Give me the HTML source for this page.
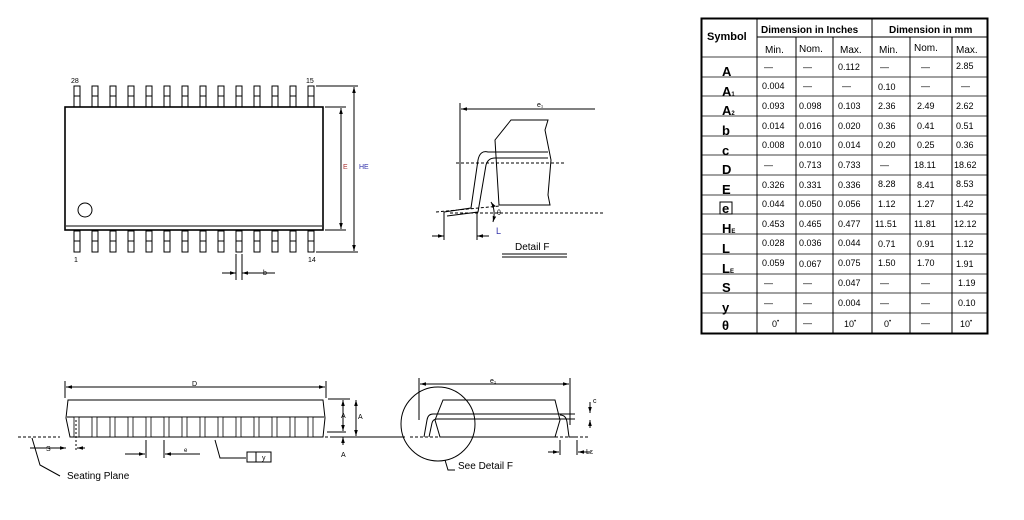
<!DOCTYPE html>
<html><head><style>
body{margin:0;background:#fff;}
svg{display:block;font-family:"Liberation Sans",sans-serif;}
</style></head><body>
<svg width="1024" height="520" viewBox="0 0 1024 520" xmlns="http://www.w3.org/2000/svg">
<defs>
<marker id="ar" viewBox="0 0 10 10" refX="10" refY="5" markerWidth="6" markerHeight="6" orient="auto-start-reverse"><path d="M0,2 L10,5 L0,8 z" fill="#000"/></marker>
<g id="pin"><rect x="0" y="0" width="6" height="21"/><line x1="0" y1="10" x2="6" y2="10"/></g>
<g id="lead"><rect x="0" y="0" width="5" height="20" fill="#fff"/></g>
</defs>
<g stroke="#000" fill="none" stroke-width="1">
<!-- top view pins -->
<g id="pins">
<use href="#pin" x="74" y="86"/><use href="#pin" x="92" y="86"/><use href="#pin" x="110" y="86"/><use href="#pin" x="128" y="86"/><use href="#pin" x="146" y="86"/><use href="#pin" x="164" y="86"/><use href="#pin" x="182" y="86"/><use href="#pin" x="200" y="86"/><use href="#pin" x="218" y="86"/><use href="#pin" x="236" y="86"/><use href="#pin" x="254" y="86"/><use href="#pin" x="272" y="86"/><use href="#pin" x="290" y="86"/><use href="#pin" x="308" y="86"/>
</g>
<use href="#pins" y="145"/>
<rect x="65" y="107" width="258" height="123" fill="#fff" stroke-width="1.6"/>
<line x1="66" y1="226" x2="322" y2="226"/>
<circle cx="85" cy="210" r="7"/>
<!-- E / HE dims -->
<line x1="325" y1="107" x2="346" y2="107"/><line x1="325" y1="230" x2="346" y2="230"/>
<line x1="341" y1="108" x2="341" y2="229" marker-start="url(#ar)" marker-end="url(#ar)"/>
<line x1="316" y1="86" x2="358" y2="86"/><line x1="316" y1="252" x2="358" y2="252"/>
<line x1="354" y1="87" x2="354" y2="251" marker-start="url(#ar)" marker-end="url(#ar)"/>
<line x1="236" y1="254" x2="236" y2="280"/><line x1="242" y1="254" x2="242" y2="280"/>
<line x1="222" y1="273" x2="236" y2="273" marker-end="url(#ar)"/><line x1="256" y1="273" x2="242" y2="273" marker-end="url(#ar)"/>
<line x1="256" y1="273" x2="275" y2="273"/>
<!-- detail F -->
<line x1="460" y1="103" x2="460" y2="200"/>
<line x1="461" y1="109" x2="595" y2="109" marker-start="url(#ar)"/>
<path d="M511,120 L548,120 L545,130 L551,160 L548,195 L550,205 L499,205 L495,140 Z"/>
<line x1="456" y1="163" x2="565" y2="163" stroke-dasharray="3,2"/>
<path d="M444,212 L471,208 L478,160 Q480,150 488,152 L548,152" />
<path d="M447,216 L478,212 L486,165 Q488,158 495,158 L548,158"/>
<line x1="436" y1="212" x2="500" y2="206" stroke-dasharray="3,2"/>
<line x1="450" y1="213" x2="605" y2="213" stroke-dasharray="3,2"/>
<line x1="444" y1="212" x2="444" y2="240"/><line x1="477" y1="212" x2="477" y2="240"/>
<line x1="432" y1="236" x2="444" y2="236" marker-end="url(#ar)"/><line x1="489" y1="236" x2="477" y2="236" marker-end="url(#ar)"/>
<path d="M491,202 Q496,210 493,222" marker-start="url(#ar)" marker-end="url(#ar)"/>
<line x1="502" y1="254" x2="567" y2="254"/><line x1="502" y1="257" x2="567" y2="257"/>
<!-- side view -->
<line x1="65" y1="381" x2="65" y2="398"/><line x1="326" y1="381" x2="326" y2="398"/>
<line x1="66" y1="387" x2="325" y2="387" marker-start="url(#ar)" marker-end="url(#ar)"/>
<path d="M68,400 L323,400 L325,418 L323,437 L70,437 L66,418 Z" fill="#fff"/>
<line x1="67" y1="417" x2="324" y2="417"/>
<line x1="18" y1="437" x2="60" y2="437" stroke-dasharray="3,2"/><line x1="70" y1="437" x2="340" y2="437" stroke-dasharray="3,2"/>
<line x1="355" y1="437" x2="370" y2="437"/>
<g stroke-width="0.8">
<use href="#lead" x="74" y="417"/><use href="#lead" x="92" y="417"/><use href="#lead" x="110" y="417"/><use href="#lead" x="128" y="417"/><use href="#lead" x="146" y="417"/><use href="#lead" x="164" y="417"/><use href="#lead" x="182" y="417"/><use href="#lead" x="200" y="417"/><use href="#lead" x="218" y="417"/><use href="#lead" x="236" y="417"/><use href="#lead" x="254" y="417"/><use href="#lead" x="272" y="417"/><use href="#lead" x="290" y="417"/><use href="#lead" x="308" y="417"/>
</g>
<line x1="328" y1="399" x2="350" y2="399"/><line x1="327" y1="432" x2="346" y2="432"/><line x1="330" y1="437" x2="360" y2="437"/>
<line x1="343" y1="400" x2="343" y2="431" marker-start="url(#ar)" marker-end="url(#ar)"/>
<line x1="356" y1="400" x2="356" y2="436" marker-start="url(#ar)" marker-end="url(#ar)"/>
<line x1="343" y1="445" x2="343" y2="437" marker-end="url(#ar)"/>
<line x1="76" y1="420" x2="76" y2="452" stroke-dasharray="2,2"/>
<line x1="30" y1="448" x2="65" y2="448"/><line x1="55" y1="448" x2="66" y2="448" marker-end="url(#ar)"/><line x1="85" y1="448" x2="77" y2="448" marker-end="url(#ar)"/>
<line x1="146" y1="440" x2="146" y2="458"/><line x1="164" y1="440" x2="164" y2="458"/>
<line x1="125" y1="454" x2="145" y2="454" marker-end="url(#ar)"/><line x1="185" y1="454" x2="165" y2="454" marker-end="url(#ar)"/>
<line x1="165" y1="454" x2="200" y2="454"/>
<path d="M215,440 L220,458 L246,458" />
<rect x="247" y="452" width="24" height="10"/><line x1="256" y1="452" x2="256" y2="462"/>
<path d="M32,438 L40,465 L60,476"/>
<!-- right side -->
<line x1="419" y1="378" x2="419" y2="420"/><line x1="570" y1="378" x2="570" y2="425"/>
<line x1="420" y1="384" x2="569" y2="384" marker-start="url(#ar)" marker-end="url(#ar)"/>
<path d="M443,400 L555,400 L560,420 L555,437 L440,437 L435,420 Z"/>
<path d="M424,437 L427,420 Q428,414 433,414 L575,414"/>
<path d="M429,437 L432,423 Q433,419 437,419 L575,419"/>
<path d="M560,415 Q566,415 567,422 L569,437 L578,437"/>
<line x1="362" y1="437" x2="405" y2="437"/><line x1="410" y1="437" x2="590" y2="437" stroke-dasharray="3,2"/>
<circle cx="438" cy="424" r="37"/>
<path d="M445,460 L448,470 L455,470"/>
<line x1="560" y1="440" x2="560" y2="455"/><line x1="577" y1="440" x2="577" y2="455"/>
<line x1="548" y1="452" x2="559" y2="452" marker-end="url(#ar)"/><line x1="590" y1="452" x2="578" y2="452" marker-end="url(#ar)"/>
<line x1="590" y1="402" x2="590" y2="413" marker-end="url(#ar)"/><line x1="590" y1="428" x2="590" y2="420" marker-end="url(#ar)"/>
</g>
<g font-size="7" fill="#000">
<text x="71" y="83">28</text><text x="306" y="83">15</text><text x="74" y="262">1</text><text x="308" y="262">14</text>
<text x="343" y="169" fill="#a33">E</text><text x="359" y="169" fill="#33a">HE</text>
<text x="263" y="275">b</text>
<text x="537" y="107">e₁</text>
<text x="497" y="215">θ</text>
<text x="496" y="234" font-size="9" fill="#33a">L</text>
<text x="515" y="250" font-size="10">Detail F</text>
<text x="192" y="386">D</text>
<text x="341" y="418">A</text><text x="358" y="419">A</text><text x="341" y="457">A</text>
<text x="46" y="451">S</text>
<text x="184" y="452" font-size="6">e</text><text x="262" y="460">y</text>
<text x="67" y="479" font-size="10">Seating Plane</text>
<text x="490" y="383">e₁</text>
<text x="458" y="469" font-size="10">See Detail F</text>
<text x="593" y="403">c</text><text x="586" y="454">Lε</text>
</g>
<!-- table -->
<g stroke="#000" fill="none">
<rect x="701.5" y="18.5" width="286" height="315" stroke-width="2"/>
<line x1="757" y1="19" x2="757" y2="333"/>
<line x1="872" y1="19" x2="872" y2="333"/>
<line x1="796" y1="37" x2="796" y2="333"/><line x1="833" y1="37" x2="833" y2="333"/>
<line x1="910" y1="37" x2="910" y2="333"/><line x1="952" y1="37" x2="952" y2="333"/>
<line x1="757" y1="37" x2="987" y2="37"/>
<g stroke-width="0.8">
<line x1="702" y1="57" x2="987" y2="57"/><line x1="702" y1="77" x2="987" y2="77"/><line x1="702" y1="96" x2="987" y2="96"/><line x1="702" y1="116" x2="987" y2="116"/><line x1="702" y1="136" x2="987" y2="136"/><line x1="702" y1="155" x2="987" y2="155"/><line x1="702" y1="175" x2="987" y2="175"/><line x1="702" y1="195" x2="987" y2="195"/><line x1="702" y1="214" x2="987" y2="214"/><line x1="702" y1="234" x2="987" y2="234"/><line x1="702" y1="254" x2="987" y2="254"/><line x1="702" y1="274" x2="987" y2="274"/><line x1="702" y1="293" x2="987" y2="293"/><line x1="702" y1="313" x2="987" y2="313"/>
</g>
</g>
<g font-size="9" fill="#000">
<text x="707" y="40" font-weight="bold" font-size="11">Symbol</text>
<text x="761" y="33" font-weight="bold" font-size="10">Dimension in Inches</text>
<text x="889" y="33" font-weight="bold" font-size="10">Dimension in mm</text>
<g font-size="10"><text x="765" y="53">Min.</text><text x="799" y="52">Nom.</text><text x="840" y="53">Max.</text><text x="879" y="53">Min.</text><text x="914" y="51">Nom.</text><text x="956" y="53">Max.</text></g>
<g font-weight="bold" font-size="13">
<text x="722" y="76">A</text><text x="722" y="96">A<tspan font-size="6">1</tspan></text><text x="722" y="115">A<tspan font-size="6">2</tspan></text><text x="722" y="135">b</text><text x="722" y="155">c</text><text x="722" y="174">D</text><text x="722" y="194">E</text><text x="722" y="213">e</text><text x="722" y="233">H<tspan font-size="6">E</tspan></text><text x="722" y="253">L</text><text x="722" y="273">L<tspan font-size="6">E</tspan></text><text x="722" y="292">S</text><text x="722" y="312">y</text><text x="722" y="330">θ</text>
</g>
<rect x="720" y="202" width="12" height="12" fill="none" stroke="#000"/>
<g>
<text x="764" y="70">—</text><text x="803" y="70">—</text><text x="838" y="70">0.112</text><text x="880" y="70">—</text><text x="921" y="70">—</text><text x="956" y="69">2.85</text>
<text x="762" y="89">0.004</text><text x="803" y="89">—</text><text x="842" y="89">—</text><text x="878" y="90">0.10</text><text x="921" y="89">—</text><text x="961" y="89">—</text>
<text x="762" y="109">0.093</text><text x="799" y="109">0.098</text><text x="838" y="109">0.103</text><text x="878" y="109">2.36</text><text x="917" y="109">2.49</text><text x="956" y="109">2.62</text>
<text x="762" y="129">0.014</text><text x="799" y="129">0.016</text><text x="838" y="129">0.020</text><text x="878" y="129">0.36</text><text x="917" y="129">0.41</text><text x="956" y="129">0.51</text>
<text x="762" y="148">0.008</text><text x="799" y="148">0.010</text><text x="838" y="148">0.014</text><text x="878" y="148">0.20</text><text x="917" y="148">0.25</text><text x="956" y="148">0.36</text>
<text x="764" y="168">—</text><text x="799" y="168">0.713</text><text x="838" y="168">0.733</text><text x="880" y="168">—</text><text x="914" y="168">18.11</text><text x="954" y="168">18.62</text>
<text x="762" y="188">0.326</text><text x="799" y="188">0.331</text><text x="838" y="188">0.336</text><text x="878" y="187">8.28</text><text x="917" y="188">8.41</text><text x="956" y="187">8.53</text>
<text x="762" y="207">0.044</text><text x="799" y="207">0.050</text><text x="838" y="207">0.056</text><text x="878" y="207">1.12</text><text x="917" y="207">1.27</text><text x="956" y="207">1.42</text>
<text x="762" y="227">0.453</text><text x="799" y="227">0.465</text><text x="838" y="227">0.477</text><text x="875" y="227">11.51</text><text x="914" y="227">11.81</text><text x="954" y="227">12.12</text>
<text x="762" y="246">0.028</text><text x="799" y="246">0.036</text><text x="838" y="246">0.044</text><text x="878" y="247">0.71</text><text x="917" y="247">0.91</text><text x="956" y="247">1.12</text>
<text x="762" y="266">0.059</text><text x="799" y="267">0.067</text><text x="838" y="266">0.075</text><text x="878" y="266">1.50</text><text x="917" y="266">1.70</text><text x="956" y="267">1.91</text>
<text x="764" y="286">—</text><text x="803" y="286">—</text><text x="838" y="286">0.047</text><text x="880" y="286">—</text><text x="921" y="286">—</text><text x="958" y="286">1.19</text>
<text x="764" y="306">—</text><text x="803" y="306">—</text><text x="838" y="306">0.004</text><text x="880" y="306">—</text><text x="921" y="306">—</text><text x="958" y="306">0.10</text>
<text x="772" y="327">0<tspan font-size="6" dy="-4">•</tspan></text><text x="803" y="326">—</text><text x="844" y="327">10<tspan font-size="6" dy="-4">•</tspan></text><text x="884" y="327">0<tspan font-size="6" dy="-4">•</tspan></text><text x="921" y="326">—</text><text x="960" y="327">10<tspan font-size="6" dy="-4">•</tspan></text>
</g>
</g>
</svg>
</body></html>
